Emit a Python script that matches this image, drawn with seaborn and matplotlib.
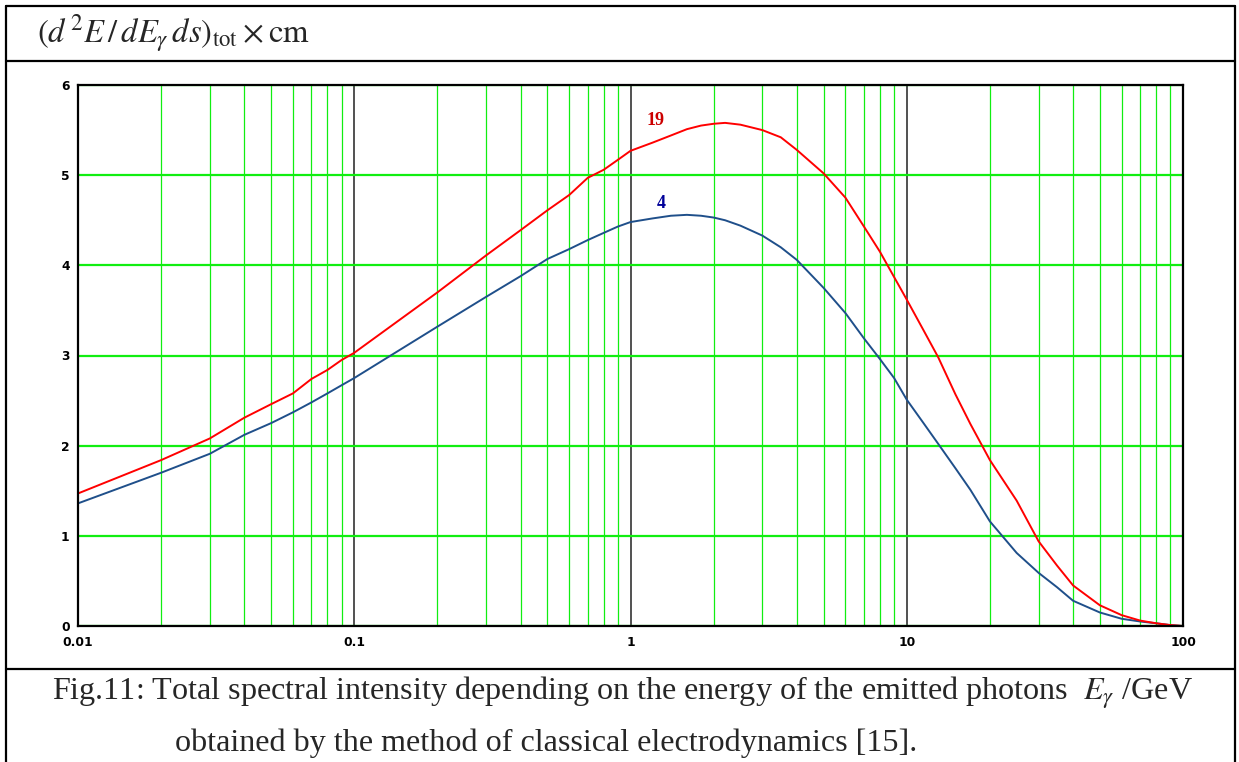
import matplotlib
matplotlib.use("Agg")
import matplotlib.pyplot as plt
import matplotlib.ticker as mticker
from matplotlib.lines import Line2D
import numpy as np
import pandas as pd
import seaborn as sns

# photon energy (GeV) and total spectral intensity for the two curves
energy = [0.01, 0.02, 0.03, 0.04, 0.05, 0.06, 0.07, 0.08, 0.09, 0.1,
          0.2, 0.3, 0.4, 0.5, 0.6, 0.7, 0.8, 0.9, 1, 1.2,
          1.4, 1.6, 1.8, 2, 2.2, 2.5, 3, 3.5, 4, 5,
          6, 7, 8, 9, 10, 11.5, 13, 15, 17, 20,
          25, 30, 35, 40, 50, 60, 70, 80, 90, 100]
curve_19 = [1.47, 1.84, 2.08, 2.31, 2.46, 2.58, 2.74, 2.84, 2.95, 3.03,
            3.70, 4.11, 4.39, 4.61, 4.78, 4.97, 5.06, 5.17, 5.27, 5.36,
            5.44, 5.51, 5.55, 5.57, 5.58, 5.56, 5.50, 5.42, 5.28, 5.02,
            4.75, 4.43, 4.15, 3.87, 3.62, 3.28, 2.98, 2.57, 2.24, 1.84,
            1.39, 0.94, 0.67, 0.45, 0.23, 0.12, 0.06, 0.03, 0.01, 0.0]
curve_4 = [1.36, 1.70, 1.91, 2.12, 2.25, 2.37, 2.48, 2.58, 2.67, 2.75,
           3.32, 3.65, 3.88, 4.07, 4.18, 4.28, 4.36, 4.43, 4.48, 4.52,
           4.55, 4.56, 4.55, 4.53, 4.50, 4.44, 4.33, 4.20, 4.06, 3.75,
           3.47, 3.19, 2.96, 2.75, 2.51, 2.25, 2.02, 1.75, 1.51, 1.16,
           0.81, 0.59, 0.43, 0.28, 0.15, 0.08, 0.05, 0.03, 0.01, 0.0]
x_ticks = [0.01, 0.1, 1, 10, 100]
x_tick_labels = ["0.01", "0.1", "1", "10", "100"]
y_ticks = [0, 1, 2, 3, 4, 5, 6]

df = pd.DataFrame({"E": energy, "c19": curve_19, "c4": curve_4})

sns.set_style("white")
plt.rcParams["font.family"] = ["DejaVu Sans"]
plt.rcParams["mathtext.fontset"] = "stix"

GREEN = "#11ee11"

fig = plt.figure(figsize=(12.39, 7.62), dpi=100)
ax = fig.add_axes([78 / 1239, 136 / 762, 1105 / 1239, 541 / 762])

sns.lineplot(data=df, x="E", y="c4", ax=ax, color="#1f4f8a", lw=1.4, zorder=4)
sns.lineplot(data=df, x="E", y="c19", ax=ax, color="#ff0000", lw=1.4, zorder=5)

ax.set_xscale("log")
ax.set_xlim(0.01, 100)
ax.set_ylim(0, 6)
ax.set_xticks(x_ticks)
ax.set_xticklabels(x_tick_labels)
ax.xaxis.set_minor_locator(mticker.LogLocator(base=10, subs=np.arange(2, 10)))
ax.xaxis.set_minor_formatter(mticker.NullFormatter())
ax.set_yticks(y_ticks)
ax.set_xlabel("")
ax.set_ylabel("")

ax.set_axisbelow(True)
ax.grid(which="minor", axis="x", color=GREEN, lw=0.9)
ax.grid(which="major", axis="x", color="#222222", lw=1.1)
ax.grid(which="major", axis="y", color=GREEN, lw=1.6)

ax.tick_params(which="both", length=0)
ax.tick_params(axis="x", pad=7)
ax.tick_params(axis="y", pad=6)
for lab in ax.get_xticklabels() + ax.get_yticklabels():
    lab.set_fontsize(8.8)
    lab.set_fontweight("bold")
    lab.set_color("black")
for s in ax.spines.values():
    s.set_color("black")
    s.set_linewidth(1.6)
    s.set_zorder(6)

ax.text(1.23, 5.61, "19", color="#cc0000", fontsize=13, fontweight="bold",
        family=["Liberation Serif"], ha="center", va="center")
ax.text(1.29, 4.69, "4", color="#000099", fontsize=13, fontweight="bold",
        family=["Liberation Serif"], ha="center", va="center")

# table frame around the figure
def fx(px):
    return px / 1239

def fy(py):
    return 1 - py / 762

for xs, ys in [([fx(6), fx(1235)], [fy(6), fy(6)]),
               ([fx(6), fx(1235)], [fy(61), fy(61)]),
               ([fx(6), fx(1235)], [fy(669), fy(669)]),
               ([fx(6), fx(6)], [fy(6), 0]),
               ([fx(1235), fx(1235)], [fy(6), 0])]:
    fig.add_artist(Line2D(xs, ys, color="black", lw=1.6))

fig.text(fx(37), fy(43), r"$(d^{\,2}E\,/\,dE_{\gamma}\,ds)_{\mathrm{tot}}\times\mathrm{cm}$",
         fontsize=23.5, va="baseline", ha="left")
fig.text(fx(52), fy(700),
         r"Fig.11: Total spectral intensity depending on the energy of the emitted photons  $E_{\gamma}$ /GeV",
         fontsize=23.1, family=["Liberation Serif"], va="baseline", ha="left")
fig.text(fx(175), fy(751), "obtained by the method of classical electrodynamics [15].",
         fontsize=23.1, family=["Liberation Serif"], va="baseline", ha="left")

fig.savefig("out.png", dpi=100)
